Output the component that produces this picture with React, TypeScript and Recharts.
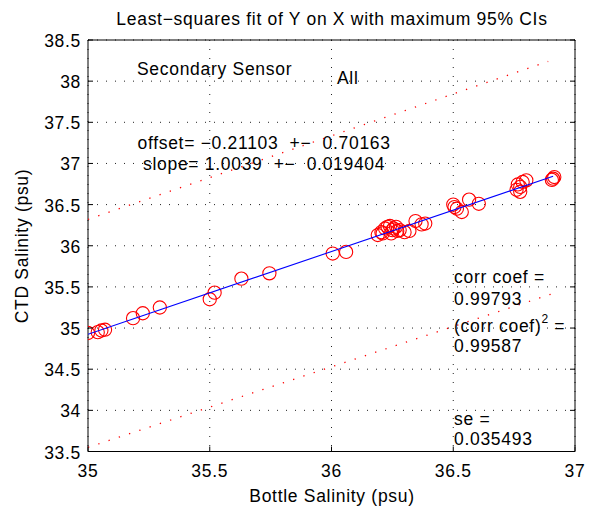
import React from 'react';
import { ComposedChart, Scatter, XAxis, YAxis, CartesianGrid } from 'recharts';

// Bottle (x) vs CTD (y) salinity samples
const bottleSalinity = [
  35.0, 35.04, 35.055, 35.07, 35.185, 35.225, 35.295, 35.5, 35.52, 35.63,
  35.745, 36.005, 36.06, 36.19, 36.205, 36.22, 36.23, 36.24, 36.255, 36.265,
  36.245, 36.28, 36.3, 36.32, 36.345, 36.37, 36.385, 36.21, 36.25, 36.27,
  36.505, 36.515, 36.5, 36.535, 36.565, 36.605, 36.765, 36.775, 36.785, 36.8,
  36.775, 36.76, 36.91, 36.905, 36.915,
];
const ctdSalinity = [
  34.94, 34.95, 34.97, 34.98, 35.12, 35.18, 35.25, 35.35, 35.43, 35.6,
  35.665, 35.905, 35.925, 36.13, 36.165, 36.21, 36.23, 36.24, 36.21, 36.23,
  36.15, 36.19, 36.165, 36.18, 36.3, 36.26, 36.27, 36.15, 36.19, 36.18,
  36.47, 36.45, 36.5, 36.41, 36.56, 36.51, 36.745, 36.715, 36.775, 36.795,
  36.655, 36.68, 36.815, 36.8, 36.835,
];

// Least-squares fit line endpoints
const fitX = [35.0, 36.91];
const fitY = [34.925, 36.844];
// Maximum 95% CI lines
const upperCiX = [35.0, 36.89];
const upperCiY = [36.32, 38.24];
const lowerCiX = [35.0, 36.9];
const lowerCiY = [33.55, 35.41];

const xTicks = [35, 35.5, 36, 36.5, 37];
const yTicks = [33.5, 34, 34.5, 35, 35.5, 36, 36.5, 37, 37.5, 38, 38.5];

const titleText = 'Least\u2212squares fit of Y on X with maximum 95% CIs';
const xLabel = 'Bottle Salinity (psu)';
const yLabel = 'CTD Salinity (psu)';
const sensorText = 'Secondary Sensor';
const groupText = 'All';
const offsetText = 'offset= \u22120.21103  +\u2212  0.70163';
const slopeText = 'slope= 1.0039  +\u2212  0.019404';
const corrLabel = 'corr coef =';
const corrValue = '0.99793';
const corr2Value = '0.99587';
const seLabel = 'se =';
const seValue = '0.035493';

const zip = (xs: number[], ys: number[]) => xs.map((x, i) => ({ x, y: ys[i] }));
const points = zip(bottleSalinity, ctdSalinity);
const fitData = zip(fitX, fitY);
const upperData = zip(upperCiX, upperCiY);
const lowerData = zip(lowerCiX, lowerCiY);

const FONT: React.CSSProperties = {
  fontFamily: '"Liberation Sans", Arial, Helvetica, sans-serif',
  fontSize: 17.5,
  letterSpacing: 0.7,
  fill: '#000',
  whiteSpace: 'pre',
};
const TICK = 5;
const fmt = (v: number) => String(v);

const BottomTick = (p: any) => (
  <g>
    <line x1={p.x} y1={p.y} x2={p.x} y2={p.y - TICK} stroke="#000" strokeWidth={1} />
    <text x={p.x} y={p.y + 25} textAnchor="middle" style={FONT}>{fmt(p.payload.value)}</text>
  </g>
);
const TopTick = (p: any) => (
  <line x1={p.x} y1={p.y} x2={p.x} y2={p.y + TICK} stroke="#000" strokeWidth={1} />
);
const LeftTick = (p: any) => (
  <g>
    <line x1={p.x} y1={p.y} x2={p.x + TICK} y2={p.y} stroke="#000" strokeWidth={1} />
    <text x={p.x - 7} y={p.y + 7} textAnchor="end" style={FONT}>{fmt(p.payload.value)}</text>
  </g>
);
const RightTick = (p: any) => (
  <line x1={p.x} y1={p.y} x2={p.x - TICK} y2={p.y} stroke="#000" strokeWidth={1} />
);

const CircleShape = (p: any) => (
  <circle cx={p.cx} cy={p.cy} r={6.6} fill="none" stroke="#ff0000" strokeWidth={1.1} />
);
const NoShape = () => <g />;

export default function App() {
  return (
    <div style={{ position: 'absolute', left: 0, top: 0, width: 598, height: 510, background: '#fff' }}>
      <ComposedChart
        width={598}
        height={510}
        margin={{ top: 39, right: 22, bottom: 28.5, left: 48 }}
      >
        <CartesianGrid stroke="#222" strokeDasharray="1 8" strokeWidth={1} />
        <XAxis
          dataKey="x"
          type="number"
          domain={[35, 37]}
          ticks={xTicks}
          allowDataOverflow
          height={30}
          tickSize={0}
          tickMargin={0}
          tickLine={false}
          axisLine={{ stroke: '#000', strokeWidth: 1 }}
          tick={BottomTick}
          interval={0}
        />
        <XAxis
          xAxisId="top"
          orientation="top"
          type="number"
          domain={[35, 37]}
          ticks={xTicks}
          allowDataOverflow
          height={1}
          tickSize={0}
          tickMargin={0}
          tickLine={false}
          axisLine={{ stroke: '#000', strokeWidth: 1 }}
          tick={TopTick}
          interval={0}
        />
        <YAxis
          dataKey="y"
          type="number"
          domain={[33.5, 38.5]}
          ticks={yTicks}
          allowDataOverflow
          width={40}
          tickSize={0}
          tickMargin={0}
          tickLine={false}
          axisLine={{ stroke: '#000', strokeWidth: 1 }}
          tick={LeftTick}
          interval={0}
        />
        <YAxis
          yAxisId="right"
          orientation="right"
          type="number"
          domain={[33.5, 38.5]}
          ticks={yTicks}
          allowDataOverflow
          width={1}
          tickSize={0}
          tickMargin={0}
          tickLine={false}
          axisLine={{ stroke: '#000', strokeWidth: 1 }}
          tick={RightTick}
          interval={0}
        />
        <Scatter data={points} shape={CircleShape} isAnimationActive={false} />
        <Scatter
          data={fitData}
          line={{ stroke: '#0000ff', strokeWidth: 1.1 }}
          shape={NoShape}
          isAnimationActive={false}
        />
        <Scatter
          data={upperData}
          line={{ stroke: '#ff0000', strokeWidth: 1.3, strokeDasharray: '1.3 9.5' }}
          shape={NoShape}
          isAnimationActive={false}
        />
        <Scatter
          data={lowerData}
          line={{ stroke: '#ff0000', strokeWidth: 1.3, strokeDasharray: '1.3 9.5' }}
          shape={NoShape}
          isAnimationActive={false}
        />
      </ComposedChart>
      <svg
        width={598}
        height={510}
        style={{ position: 'absolute', left: 0, top: 0, pointerEvents: 'none' }}
      >
        <text x={332} y={25} textAnchor="middle" style={FONT}>{titleText}</text>
        <text x={332} y={502} textAnchor="middle" style={FONT}>{xLabel}</text>
        <text transform="translate(28,246) rotate(-90)" x={0} y={0} textAnchor="middle" style={FONT}>{yLabel}</text>
        <text x={137} y={75} style={FONT}>{sensorText}</text>
        <text x={337} y={84} style={FONT}>{groupText}</text>
        <text x={137.5} y={149} style={FONT}>{offsetText}</text>
        <text x={143} y={170} style={FONT}>{slopeText}</text>
        <text x={454} y={283} style={FONT}>{corrLabel}</text>
        <text x={454} y={305} style={FONT}>{corrValue}</text>
        <text x={454} y={332} style={FONT}>
          (corr coef)
          <tspan dy={-9} style={{ fontSize: 12 }}>2</tspan>
          <tspan dy={9}> =</tspan>
        </text>
        <text x={454} y={352} style={FONT}>{corr2Value}</text>
        <text x={454} y={425} style={FONT}>{seLabel}</text>
        <text x={454} y={445} style={FONT}>{seValue}</text>
      </svg>
    </div>
  );
}
